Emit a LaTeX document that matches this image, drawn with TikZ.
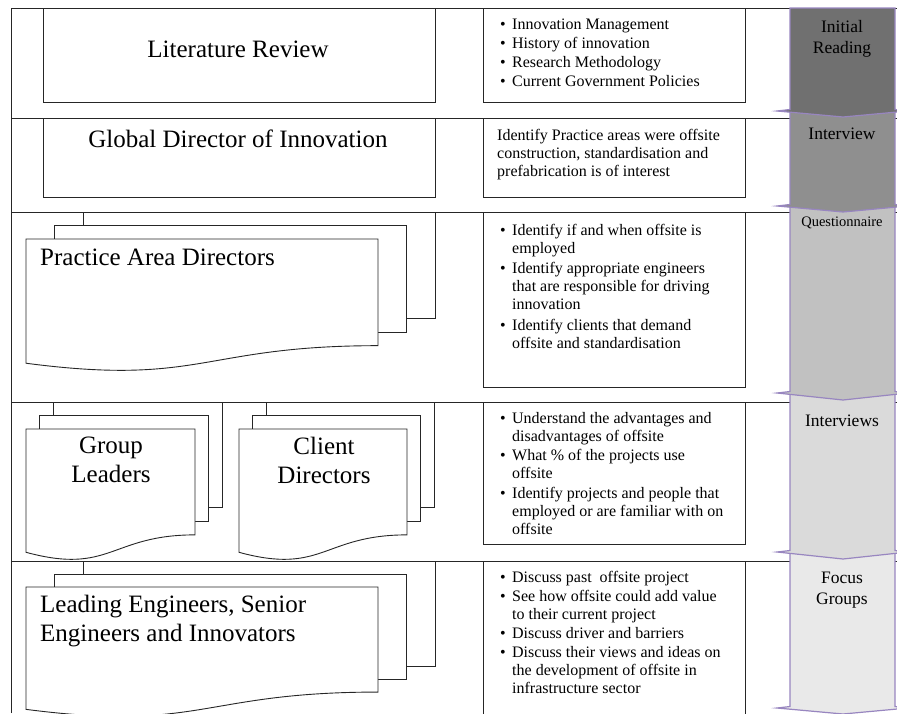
\documentclass[tikz,border=0pt]{standalone}
\usepackage{fontspec}
\setmainfont{Liberation Serif}
\definecolor{stageline}{RGB}{152,134,192}
\definecolor{stageA}{RGB}{112,112,112}
\definecolor{stageB}{RGB}{143,143,143}
\definecolor{stageC}{RGB}{193,193,193}
\definecolor{stageD}{RGB}{218,218,218}
\definecolor{stageE}{RGB}{233,233,233}
\tikzset{%
  frame/.style={draw=black!85,line width=0.9pt},
  box/.style={draw=black!85,line width=0.9pt,fill=white},
  head/.style={inner sep=0,font=\fontsize{25}{29}\selectfont},
  notes/.style={inner sep=0,align=left,anchor=north west,font=\fontsize{16}{18}\selectfont},
  stage/.style={draw=stageline,line width=1.2pt},
  stagelabel/.style={inner sep=0,align=center,font=\fontsize{17.5}{21}\selectfont}
}
\newcommand\bul{\makebox[12pt][l]{\textbullet}}
\newcommand\ind{\hspace*{12pt}}
% stack of three pages: x, y, width, height, shift x, shift y
\newcommand\stackdoc[6]{%
  \draw[box] ({#1+2*#5},{#2-2*#6}) rectangle ++(#3,{0.802*#4});
  \draw[box] ({#1+#5},{#2-#6}) rectangle ++(#3,{0.802*#4});
  \draw[box] (#1,#2) -- ++(#3,0) -- ++(0,{0.802*#4})
    .. controls ({#1+0.5*#3},{#2+0.802*#4}) and ({#1+0.5*#3},{#2+1.1075*#4}) .. (#1,{#2+0.934*#4}) -- cycle;
}

\begin{document}
\begin{tikzpicture}[x=1pt,y=-1pt]
  \useasboundingbox (0,0) rectangle (897,713);
  \clip (0,0) rectangle (897,713);

  % rows
  \draw[frame] (11,713) -- (11,8) -- (897,8);
  \foreach \y in {118,212,402,561}
    \draw[frame] (11,\y) -- (897,\y);

  % boxes
  \draw[box] (43,8) rectangle (435,102);
  \draw[box] (43,118) rectangle (435,197);
  \draw[box] (483,8) rectangle (745,102);
  \draw[box] (483,118) rectangle (745,197);
  \draw[box] (483,212) rectangle (745,387);
  \draw[box] (483,402) rectangle (745,544);
  \draw[box] (483,561) rectangle (745,730);

  \stackdoc{26}{239}{352}{133}{28.5}{13.5}
  \stackdoc{26}{429}{169}{132}{13.5}{13.5}
  \stackdoc{239}{429}{168}{132}{13.5}{13.5}
  \stackdoc{26}{587}{352}{131}{28.5}{13}

  % stages, last one first
  \foreach \t/\w/\p/\c in {552/708/714/stageE,393/552/559/stageD,206/393/400/stageC,111/206/212/stageB,8/111/117/stageA}
    \draw[stage,fill=\c] (790,\t) -- (895,\t) -- (895,\w-1.5) -- (908,\w) -- (843,\p)
      -- (777,\w) -- (790,\w-1.5) -- cycle;

  \node[head,anchor=base] (lit) at (238,57) {Literature Review};
  \node[head,anchor=base] (gdi) at (238,147) {Global Director of Innovation};
  \node[head,anchor=base west] (pad) at (40,265) {Practice Area Directors};
  \node[head,align=center,anchor=north] (gl) at (111,437) {Group\\Leaders};
  \node[head,align=center,anchor=north] (cd) at (324,437) {Client\\Directors};
  \node[head,align=left,anchor=north west] (le) at (40,595) {Leading Engineers, Senior\\Engineers and Innovators};

  \node[notes] (litnotes) at (500,19) {\bul Innovation Management\\[1pt]
    \bul History of innovation\\[1pt]
    \bul Research Methodology\\[1pt]
    \bul Current Government Policies};
  \node[notes] (gdinotes) at (497,129) {Identify Practice areas were offsite\\
    construction, standardisation and\\
    prefabrication is of interest};
  \node[notes] (padnotes) at (500,224) {\bul Identify if and when offsite is\\
    \ind employed\\[2.5pt]
    \bul Identify appropriate engineers\\
    \ind that are responsible for driving\\
    \ind innovation\\[2.5pt]
    \bul Identify clients that demand\\
    \ind offsite and standardisation};
  \node[notes] (glnotes) at (500,412) {\bul Understand the advantages and\\
    \ind disadvantages of offsite\\[1.5pt]
    \bul What \% of the projects use\\
    \ind offsite\\[1.5pt]
    \bul Identify projects and people that\\
    \ind employed or are familiar with on\\
    \ind offsite};
  \node[notes] (lenotes) at (500,571) {\bul Discuss past\ \ offsite project\\[1pt]
    \bul See how offsite could add value\\
    \ind to their current project\\[1pt]
    \bul Discuss driver and barriers\\[1pt]
    \bul Discuss their views and ideas on\\
    \ind the development of offsite in\\
    \ind infrastructure sector};

  \node[stagelabel,anchor=north] (s1) at (842,20) {Initial\\Reading};
  \node[stagelabel,anchor=base] (s2) at (842,139) {Interview};
  \node[stagelabel,anchor=base,font=\fontsize{14.5}{17}\selectfont] (s3) at (842,226) {Questionnaire};
  \node[stagelabel,anchor=base] (s4) at (842,426) {Interviews};
  \node[stagelabel,anchor=north] (s5) at (842,572) {Focus\\Groups};
\end{tikzpicture}
\end{document}
